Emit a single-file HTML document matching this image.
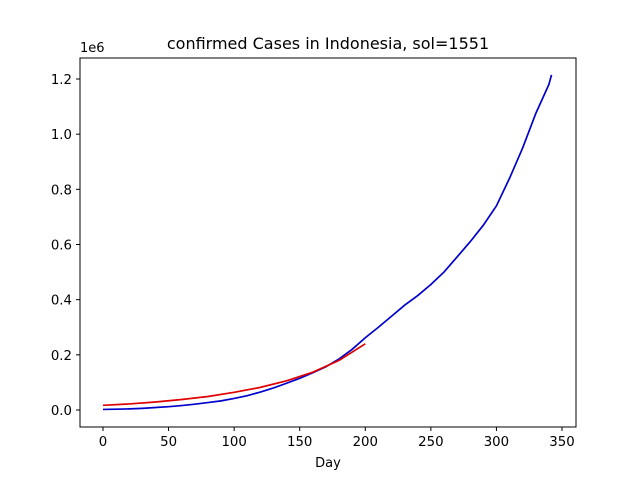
<!DOCTYPE html>
<html><head><meta charset="utf-8"><style>
body{margin:0;background:#fff;}
svg{display:block;font-family:"DejaVu Sans","Liberation Sans",sans-serif;}
</style></head><body>
<svg id="chart" width="640" height="480" xmlns="http://www.w3.org/2000/svg">
<rect width="640" height="480" fill="#fff"/>
<text x="328" y="49" text-anchor="middle" font-size="16">confirmed Cases in Indonesia, sol=1551</text>
<text x="80" y="52" font-size="13">1e6</text>
<text x="328" y="467" text-anchor="middle" font-size="13">Day</text>
<g id="ticks"></g>
<g id="lines"></g>
<rect x="80" y="58" width="496" height="369" fill="none" stroke="#000" stroke-width="1"/>
</svg>
<script>
const xTicks=[0,50,100,150,200,250,300,350];
const yTicks=[0,0.2,0.4,0.6,0.8,1.0,1.2];
const yTickLabels=["0.0","0.2","0.4","0.6","0.8","1.0","1.2"];
const blueDays=[0,10,20,30,40,50,60,70,80,90,100,110,120,130,140,150,160,170,180,190,200,210,220,230,240,250,260,270,280,290,300,310,320,330,340,342];
const blueVals=[0.002,0.003,0.004,0.006,0.009,0.012,0.016,0.021,0.027,0.033,0.042,0.052,0.065,0.080,0.097,0.115,0.135,0.157,0.185,0.220,0.262,0.300,0.340,0.380,0.415,0.455,0.500,0.555,0.610,0.670,0.740,0.840,0.950,1.075,1.180,1.215];
const redDays=[0,20,40,60,80,100,120,140,160,180,200];
const redVals=[0.017,0.022,0.029,0.038,0.049,0.064,0.082,0.106,0.137,0.180,0.240];
const NS="http://www.w3.org/2000/svg";
const xs=d=>103+d*(459/350);
const ys=v=>410-v*(331/1.2);
const tg=document.getElementById('ticks'), lg=document.getElementById('lines');
function mk(t,a){const e=document.createElementNS(NS,t);for(const k in a)e.setAttribute(k,a[k]);return e;}
xTicks.forEach(t=>{
  const l=mk('line',{x1:xs(t),x2:xs(t),y1:427,y2:431,stroke:'#000'});
  
  
  tg.appendChild(l);
  const tx=mk('text',{x:xs(t),y:446,'text-anchor':'middle','font-size':'13.3'});
  
  
  tx.textContent=t;tg.appendChild(tx);
});
yTicks.forEach((t,i)=>{
  const l=mk('line',{x1:76,x2:80,y1:ys(t),y2:ys(t),stroke:'#000'});
  
  
  tg.appendChild(l);
  const tx=mk('text',{x:72,y:ys(t)+5,'text-anchor':'end','font-size':'13.3'});
  
  
  tx.textContent=yTickLabels[i];tg.appendChild(tx);
});
function line(days,vals,color,name){
  const p=mk('polyline',{points:days.map((d,i)=>xs(d)+','+ys(vals[i])).join(' '),fill:'none',stroke:color,'stroke-width':'1.7'});
  
  
  lg.appendChild(p);
}
line(blueDays,blueVals,'#0000cc','actual-cases-line');
line(redDays,redVals,'#e00000','model-fit-line');
</script>
</body></html>
